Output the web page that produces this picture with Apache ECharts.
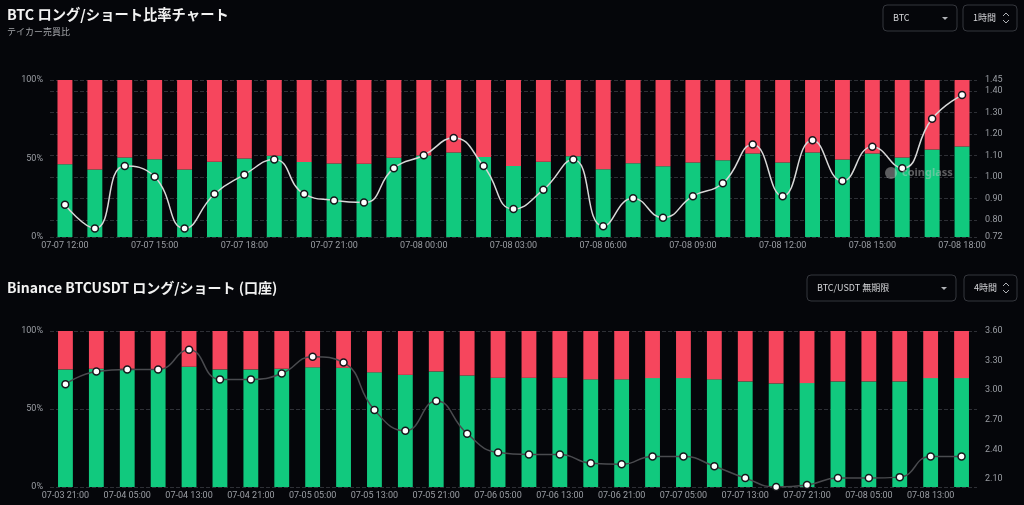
<!DOCTYPE html>
<html>
<head>
<meta charset="utf-8">
<script src="https://cdn.jsdelivr.net/npm/echarts@6.0.0/dist/echarts.min.js"></script>
<style>
  html, body { margin: 0; padding: 0; background: #05060a; }
  #chart { width: 1024px; height: 505px; }
</style>
</head>
<body>
<div id="chart"></div>
<script>
// top chart: 1h taker buy/sell
var topHours = ['07-07 12:00','07-07 13:00','07-07 14:00','07-07 15:00','07-07 16:00','07-07 17:00','07-07 18:00','07-07 19:00',
    '07-07 20:00','07-07 21:00','07-07 22:00','07-07 23:00','07-08 00:00','07-08 01:00','07-08 02:00','07-08 03:00',
    '07-08 04:00','07-08 05:00','07-08 06:00','07-08 07:00','07-08 08:00','07-08 09:00','07-08 10:00','07-08 11:00',
    '07-08 12:00','07-08 13:00','07-08 14:00','07-08 15:00','07-08 16:00','07-08 17:00','07-08 18:00'];
var topLong = [46.4, 43.0, 50.7, 49.6, 43.0, 47.9, 50.0, 51.7, 47.7, 46.8, 46.6, 50.4, 51.9, 53.9, 50.9, 45.3,
    47.9, 51.5, 43.2, 47.0, 45.1, 47.5, 48.9, 53.2, 47.5, 53.9, 49.4, 53.2, 50.7, 55.8, 57.7];
var topShort = [53.6, 57.0, 49.3, 50.4, 57.0, 52.1, 50.0, 48.3, 52.3, 53.2, 53.4, 49.6, 48.1, 46.1, 49.1, 54.7,
    52.1, 48.5, 56.8, 53.0, 54.9, 52.5, 51.1, 46.8, 52.5, 46.1, 50.6, 46.8, 49.3, 44.2, 42.3];
var topRatio = [0.87, 0.76, 1.05, 1.00, 0.76, 0.92, 1.01, 1.08, 0.92, 0.89, 0.88, 1.04, 1.10, 1.18, 1.05, 0.85,
    0.94, 1.08, 0.77, 0.90, 0.81, 0.91, 0.97, 1.15, 0.91, 1.17, 0.98, 1.14, 1.04, 1.27, 1.38];

// bottom chart: binance accounts, 4h
var botHours = ['07-03 21:00','07-04 01:00','07-04 05:00','07-04 09:00','07-04 13:00','07-04 17:00','07-04 21:00','07-05 01:00',
    '07-05 05:00','07-05 09:00','07-05 13:00','07-05 17:00','07-05 21:00','07-06 01:00','07-06 05:00','07-06 09:00',
    '07-06 13:00','07-06 17:00','07-06 21:00','07-07 01:00','07-07 05:00','07-07 09:00','07-07 13:00','07-07 17:00',
    '07-07 21:00','07-08 01:00','07-08 05:00','07-08 09:00','07-08 13:00','07-08 17:00'];
var botLong = [75.4, 75.8, 75.8, 75.6, 77.1, 75.4, 75.4, 75.8, 76.7, 76.4, 73.5, 71.9, 74.1, 71.5, 70.0,
    70.0, 70.0, 69.0, 69.0, 69.8, 69.8, 69.0, 67.7, 66.4, 66.6, 67.7, 67.7, 67.7, 69.8, 69.8];
var botShort = [24.6, 24.2, 24.2, 24.4, 22.9, 24.6, 24.6, 24.2, 23.3, 23.6, 26.5, 28.1, 25.9, 28.5, 30.0,
    30.0, 30.0, 31.0, 31.0, 30.2, 30.2, 31.0, 32.3, 33.6, 33.4, 32.3, 32.3, 32.3, 30.2, 30.2];
var botRatio = [3.06, 3.19, 3.21, 3.21, 3.41, 3.11, 3.11, 3.17, 3.34, 3.28, 2.80, 2.59, 2.89, 2.56, 2.37,
    2.35, 2.35, 2.26, 2.25, 2.33, 2.33, 2.23, 2.11, 2.02, 2.04, 2.11, 2.11, 2.12, 2.33, 2.33];

var GREEN = '#11c97e', RED = '#f6465d';
var labelColor = '#9b9ea4';
var splitColor = '#2e3036';
var fontLab = 'Roboto, "Noto Sans", sans-serif';

function pctAxis(idx, showSplit) {
    return {
        type: 'value', gridIndex: idx, min: 0, max: 100, interval: 50, position: 'left',
        axisLabel: { color: labelColor, fontSize: 9, fontFamily: fontLab, margin: 7, formatter: '{value}%' },
        axisLine: { show: false }, axisTick: { show: false },
        splitLine: { show: showSplit, lineStyle: { color: splitColor, type: 'dashed' } }
    };
}
function ratioAxis(idx, min, max, showSplit, hideMin) {
    return {
        type: 'value', gridIndex: idx, min: min, max: max, position: 'right',
        axisLabel: { color: labelColor, fontSize: 9, fontFamily: fontLab, margin: 8, showMinLabel: !hideMin,
            formatter: function (v) { return v.toFixed(2); } },
        axisLine: { show: false }, axisTick: { show: false },
        splitLine: { show: showSplit, lineStyle: { color: splitColor, type: 'dashed' } }
    };
}
function catAxis(idx, data, every) {
    return {
        type: 'category', gridIndex: idx, data: data,
        axisLine: { show: false }, axisTick: { show: false },
        axisLabel: { color: labelColor, fontSize: 9, fontFamily: fontLab, margin: 4, interval: every }
    };
}
function lineSeries(x, y, data, color) {
    return {
        type: 'line', xAxisIndex: x, yAxisIndex: y, data: data, smooth: true, z: 5,
        symbol: 'circle', symbolSize: 7, showAllSymbol: true,
        lineStyle: { color: color, width: 1.5 },
        itemStyle: { color: '#ffffff', borderColor: '#15161a', borderWidth: 1.5 }
    };
}

function dropBox(x, y, w, text, arrow) {
    var kids = [
        { type: 'rect', shape: { x: x, y: y, width: w, height: 26, r: 4 },
          style: { fill: 'transparent', stroke: '#34363c', lineWidth: 1 } },
        { type: 'text', x: x + 10, y: y + 13,
          style: { text: text, fill: '#d6d7da', font: '9px "Noto Sans CJK JP", sans-serif', verticalAlign: 'middle' } }
    ];
    if (arrow === 'down') {
        kids.push({ type: 'polygon', shape: { points: [[x + w - 15, y + 12], [x + w - 9, y + 12], [x + w - 12, y + 15]] },
            style: { fill: '#b0b2b6' } });
    } else {
        kids.push({ type: 'polyline', shape: { points: [[x + w - 14, y + 11], [x + w - 11, y + 8], [x + w - 8, y + 11]] },
            style: { stroke: '#b0b2b6', lineWidth: 1, fill: null } });
        kids.push({ type: 'polyline', shape: { points: [[x + w - 14, y + 15], [x + w - 11, y + 18], [x + w - 8, y + 15]] },
            style: { stroke: '#b0b2b6', lineWidth: 1, fill: null } });
    }
    return { type: 'group', children: kids };
}

var myChart = echarts.init(document.getElementById('chart'));
var option = {
    backgroundColor: '#05060a',
    animation: false,
    title: [
        { text: 'BTC ロング/ショート比率チャート', subtext: 'テイカー売買比', left: 2, top: 2, itemGap: 6,
          textStyle: { color: '#f2f2f2', fontSize: 14.3, fontWeight: 'bold', fontFamily: '"Noto Sans CJK JP", sans-serif' },
          subtextStyle: { color: '#a4a6aa', fontSize: 9, fontFamily: '"Noto Sans CJK JP", sans-serif' } },
        { text: 'Binance BTCUSDT ロング/ショート (口座)', left: 2, top: 276,
          textStyle: { color: '#f2f2f2', fontSize: 14, fontWeight: 'bold', fontFamily: '"Noto Sans CJK JP", sans-serif' } }
    ],
    grid: [
        { left: 50, right: 47, top: 80, height: 157 },
        { left: 50, right: 47, top: 331, height: 156 }
    ],
    xAxis: [catAxis(0, topHours, 2), catAxis(1, botHours, 1)],
    yAxis: [
        pctAxis(0, false), ratioAxis(0, 0.72, 1.45, true, false),
        pctAxis(1, true), ratioAxis(1, 2.02, 3.6, false, true)
    ],
    series: [
        { type: 'bar', name: 'Long', xAxisIndex: 0, yAxisIndex: 0, stack: 't', barWidth: '50%', data: topLong, itemStyle: { color: GREEN } },
        { type: 'bar', name: 'Short', xAxisIndex: 0, yAxisIndex: 0, stack: 't', barWidth: '50%', data: topShort, itemStyle: { color: RED } },
        lineSeries(0, 1, topRatio, '#d8d8d8'),
        { type: 'bar', name: 'Long', xAxisIndex: 1, yAxisIndex: 2, stack: 'b', barWidth: '48%', data: botLong, itemStyle: { color: GREEN } },
        { type: 'bar', name: 'Short', xAxisIndex: 1, yAxisIndex: 2, stack: 'b', barWidth: '48%', data: botShort, itemStyle: { color: RED } },
        lineSeries(1, 3, botRatio, '#4a4b4f')
    ],
    graphic: [
        dropBox(883, 5, 74, 'BTC', 'down'),
        dropBox(963, 5, 54, '1時間', 'updown'),
        dropBox(807, 275, 149, 'BTC/USDT 無期限', 'down'),
        dropBox(964, 275, 53, '4時間', 'updown'),
        { type: 'circle', shape: { cx: 891, cy: 173, r: 6 }, style: { fill: 'rgba(200,200,200,0.45)' }, z: 10 },
        { type: 'text', x: 902, y: 173, z: 10,
          style: { text: 'coinglass', fill: 'rgba(200,200,200,0.45)', font: 'bold 11px "Noto Sans", sans-serif', verticalAlign: 'middle' } }
    ]
};
myChart.setOption(option);
</script>
</body>
</html>
